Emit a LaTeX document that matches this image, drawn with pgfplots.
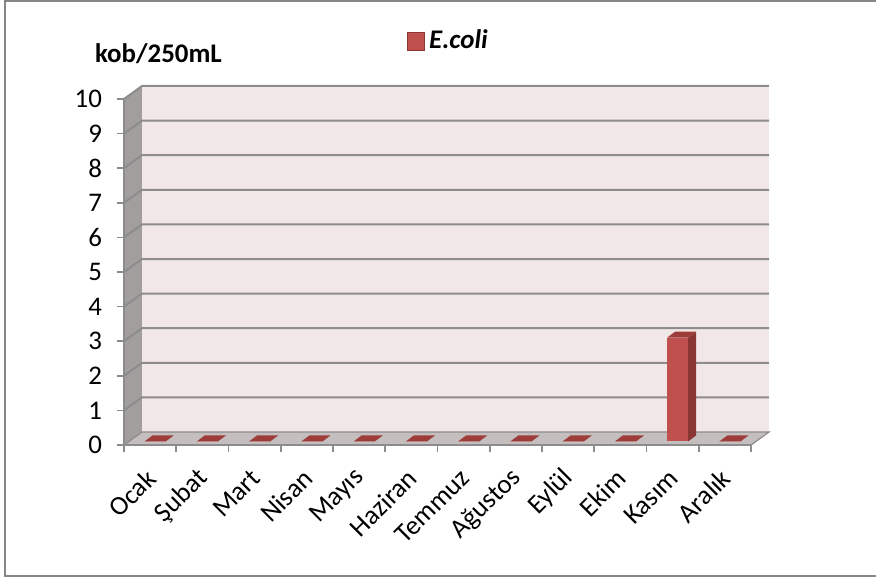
\documentclass[border=0pt]{standalone}
\usepackage{fontspec}
\setmainfont{Carlito}
\usepackage{pgfplots}
\pgfplotsset{compat=1.18}
\definecolor{wallpink}{HTML}{F2E7E7}
\definecolor{sidewall}{HTML}{A39E9E}
\definecolor{floorgray}{HTML}{C4BEBE}
\definecolor{gridgray}{HTML}{8C8C8C}
\definecolor{barfront}{HTML}{C0504D}
\definecolor{barside}{HTML}{8A3634}
\definecolor{bartop}{HTML}{9E3C3A}
\definecolor{framegray}{HTML}{868686}

\pgfdeclareplotmark{bar3d}{%
  \pgfmathsetmacro\hh{\barh*17.3}%
  \pgfmathsetmacro\hb{3-\hh}%
  \begin{pgfscope}
  \pgftransformshift{\pgfpoint{2.5bp}{1.8bp}}%
  % front face
  \pgfsetfillcolor{barfront}%
  \pgfpathmoveto{\pgfpoint{-5.25bp}{-\hh bp}}%
  \pgfpathlineto{\pgfpoint{5.25bp}{-\hh bp}}%
  \pgfpathlineto{\pgfpoint{5.25bp}{0bp}}%
  \pgfpathlineto{\pgfpoint{-5.25bp}{0bp}}%
  \pgfpathclose
  \pgfusepath{fill}%
  % side face
  \pgfsetfillcolor{barside}%
  \pgfpathmoveto{\pgfpoint{5.25bp}{-\hh bp}}%
  \pgfpathlineto{\pgfpoint{5.25bp}{0bp}}%
  \pgfpathlineto{\pgfpoint{9.25bp}{3bp}}%
  \pgfpathlineto{\pgfpoint{9.25bp}{\hb bp}}%
  \pgfpathclose
  \pgfusepath{fill}%
  % top face
  \pgfsetfillcolor{bartop}%
  \pgfpathmoveto{\pgfpoint{-5.25bp}{0bp}}%
  \pgfpathlineto{\pgfpoint{5.25bp}{0bp}}%
  \pgfpathlineto{\pgfpoint{9.25bp}{3bp}}%
  \pgfpathlineto{\pgfpoint{-1.25bp}{3bp}}%
  \pgfpathclose
  \pgfusepath{fill}%
  \end{pgfscope}
}

\begin{document}
\begin{tikzpicture}
\begin{axis}[
  x=26.125bp, y=17.3bp,
  xmin=-0.5, xmax=11.5, ymin=0, ymax=10,
  clip=false,
  axis on top,
  axis x line*=bottom, axis y line*=left,
  axis line style={gridgray, line width=0.8bp},
  every tick/.style={gridgray, line width=0.8bp},
  tick align=outside,
  major tick length=3.5bp,
  ytick={0,...,10},
  yticklabel style={xshift=-4bp},
  xtick={-0.5,0.5,...,11.5},
  xticklabels={},
  extra x ticks={0,...,11},
  extra x tick labels={Ocak,Şubat,Mart,Nisan,Mayıs,Haziran,Temmuz,Ağustos,Eylül,Ekim,Kasım,Aralık},
  extra x tick style={major tick length=0pt, xticklabel style={xshift=3bp, yshift=-12bp, rotate=45, anchor=east}},
  tick label style={font=\fontsize{13.5}{16}\selectfont},
  /pgf/number format/assume math mode=true,
  legend style={draw=none, fill=none, inner sep=0pt, at={(axis cs:4.916,11.676)}, anchor=west,
    font=\fontsize{13.5}{16}\selectfont\bfseries\itshape},
  legend image code/.code={\fill[barfront, draw=barside, line width=0.4bp] (0bp,-4.5bp) rectangle (8.5bp,4.5bp);},
]
% walls
\fill[wallpink] ([xshift=9bp,yshift=6.5bp]axis cs:-0.5,0) rectangle ([xshift=9bp,yshift=6.5bp]axis cs:11.5,10);
\fill[sidewall] (axis cs:-0.5,0) -- (axis cs:-0.5,10) -- ([xshift=9bp,yshift=6.5bp]axis cs:-0.5,10) -- ([xshift=9bp,yshift=6.5bp]axis cs:-0.5,0) -- cycle;
\filldraw[fill=floorgray, draw=gridgray, line width=0.6bp] (axis cs:-0.5,0) -- (axis cs:11.5,0) -- ([xshift=9bp,yshift=6.5bp]axis cs:11.5,0) -- ([xshift=9bp,yshift=6.5bp]axis cs:-0.5,0) -- cycle;
\pgfplotsinvokeforeach{1,...,10}{
  \draw[gridgray, line width=1bp] (axis cs:-0.5,#1) -- ([xshift=9bp,yshift=6.5bp]axis cs:-0.5,#1) -- ([xshift=9bp,yshift=6.5bp]axis cs:11.5,#1);
}
\addplot[only marks, mark=bar3d, visualization depends on={y \as \barh}] coordinates {
  (0,0) (1,0) (2,0) (3,0) (4,0) (5,0) (6,0) (7,0) (8,0) (9,0) (10,3) (11,0)
};
\addlegendentry{E.coli}
\node[anchor=base west, font=\fontsize{13.5}{16}\selectfont\bfseries] at (axis cs:-1.189,11.05) {kob/250mL};
% frame (left, top, bottom) and bounding box
\draw[framegray, line width=1bp] (axis cs:13.95,-3.786) -- (axis cs:-2.778,-3.786) -- (axis cs:-2.778,12.832) -- (axis cs:13.95,12.832);
\coordinate (bbSW) at (axis cs:-2.873,-3.844);
\coordinate (bbNE) at (axis cs:13.892,12.861);
\end{axis}
\pgfresetboundingbox
\useasboundingbox (bbSW) rectangle (bbNE);
\end{tikzpicture}
\end{document}
